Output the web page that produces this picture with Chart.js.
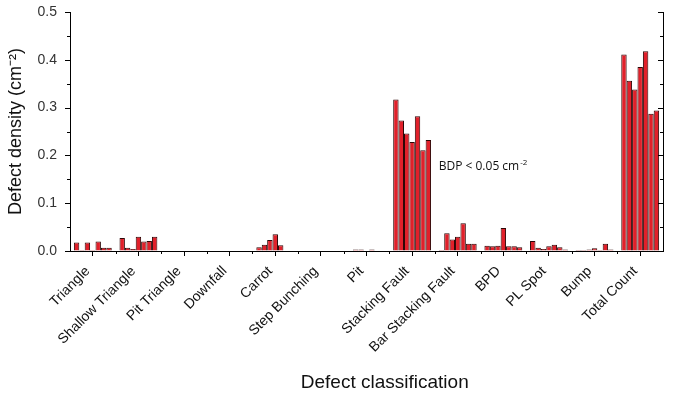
<!DOCTYPE html>
<html>
<head>
<meta charset="utf-8">
<script src="https://cdn.jsdelivr.net/npm/chart.js@4/dist/chart.umd.min.js"></script>
<style>
  body { margin: 0; background: #fff; }
</style>
</head>
<body>
<canvas id="defectChart" width="686" height="398"></canvas>
<script>
// categories along the x axis
const categories = ['Triangle', 'Shallow Triangle', 'Pit Triangle', 'Downfall', 'Carrot', 'Step Bunching',
  'Pit', 'Stacking Fault', 'Bar Stacking Fault', 'BPD', 'PL Spot', 'Bump', 'Total Count']

// seven bars per category (one per sample), values in cm^-2
const sample1 = [0.018, 0.027, 0, 0, 0.008, 0, 0, 0.317, 0.002, 0.011, 0.021, 0.002, 0.411]
const sample2 = [0.002, 0.007, 0, 0, 0.013, 0, 0.003, 0.273, 0.037, 0.010, 0.007, 0.002, 0.356]
const sample3 = [0.018, 0.004, 0, 0, 0.023, 0, 0.003, 0.246, 0.024, 0.011, 0.004, 0.003, 0.338]
const sample4 = [0.002, 0.030, 0, 0, 0.035, 0, 0, 0.228, 0.030, 0.048, 0.010, 0.006, 0.385]
const sample5 = [0.020, 0.020, 0, 0, 0.012, 0, 0.003, 0.282, 0.058, 0.010, 0.013, 0.002, 0.418]
const sample6 = [0.007, 0.021, 0, 0, 0, 0, 0, 0.211, 0.015, 0.010, 0.008, 0.015, 0.287]
const sample7 = [0.007, 0.030, 0, 0, 0, 0, 0, 0.232, 0.015, 0.008, 0.003, 0.003, 0.294]

const samples = [sample1, sample2, sample3, sample4, sample5, sample6, sample7]

// y axis range
const yMin = 0
const yMax = 0.5
const yStep = 0.1

const barFill = '#e1202a'
const barEdge = '#2e0606'
const fontFamily = '"Liberation Sans", Arial, sans-serif'

// y tick marks, mirrored right axis, minor ticks, x title and the BDP note
const axisExtras = {
  id: 'axisExtras',
  afterDraw(chart) {
    const ctx = chart.ctx
    const x = chart.scales.x
    const y = chart.scales.y
    const area = chart.chartArea
    ctx.save()
    ctx.strokeStyle = '#000'
    ctx.lineWidth = 1

    // right axis line
    ctx.beginPath()
    ctx.moveTo(area.right + 0.5, area.top)
    ctx.lineTo(area.right + 0.5, area.bottom)
    ctx.stroke()

    // y ticks: outward on the left, inward on the right, minor every half step
    for (let v = yMin; v <= yMax + 1e-9; v += yStep / 2) {
      const py = Math.round(y.getPixelForValue(v)) + 0.5
      const major = Math.abs(v / yStep - Math.round(v / yStep)) < 1e-6
      const len = major ? 5 : 3
      ctx.beginPath()
      ctx.moveTo(area.right, py)
      ctx.lineTo(area.right - len, py)
      ctx.moveTo(area.left, py)
      ctx.lineTo(area.left - len, py)
      ctx.stroke()
    }

    // minor x ticks between categories
    for (let i = 0; i < categories.length - 1; i++) {
      const px = Math.round((x.getPixelForValue(i) + x.getPixelForValue(i + 1)) / 2) + 0.5
      ctx.beginPath()
      ctx.moveTo(px, area.bottom)
      ctx.lineTo(px, area.bottom + 3)
      ctx.stroke()
    }

    // x axis title, sits a little right of the plot centre in the original
    ctx.fillStyle = '#111'
    ctx.textAlign = 'center'
    ctx.textBaseline = 'middle'
    ctx.font = '19px ' + fontFamily
    ctx.fillText('Defect classification', x.getPixelForValue(6.4), 383)

    // note next to the stacking fault bars
    const tx = x.getPixelForValue(8) - 19
    const ty = y.getPixelForValue(0.17)
    ctx.textAlign = 'left'
    ctx.textBaseline = 'alphabetic'
    ctx.font = '12px "Open Sans", sans-serif'
    const main = 'BDP < 0.05 cm'
    ctx.fillText(main, tx, ty)
    const w = ctx.measureText(main).width
    ctx.font = '8px "Open Sans", sans-serif'
    ctx.fillText('-2', tx + w + 1, ty - 5)
    ctx.restore()
  }
}

new Chart(document.getElementById('defectChart'), {
  type: 'bar',
  data: {
    labels: categories,
    datasets: samples.map((values, i) => ({
      label: 'Sample ' + (i + 1),
      data: values,
      backgroundColor: barFill,
      borderColor: barEdge,
      borderWidth: 1,
      borderSkipped: 'bottom',
      barPercentage: 1,
      categoryPercentage: 0.83,
    })),
  },
  options: {
    responsive: false,
    animation: false,
    layout: {
      padding: { top: 12, right: 23, left: 0, bottom: 0 },
    },
    plugins: {
      legend: { display: false },
      tooltip: { enabled: false },
    },
    scales: {
      x: {
        type: 'category',
        offset: true,
        grid: {
          offset: false,
          drawOnChartArea: false,
          tickLength: 5,
          color: '#000',
        },
        border: { color: '#000', width: 1 },
        ticks: {
          autoSkip: false,
          minRotation: 45,
          maxRotation: 45,
          padding: 7,
          labelOffset: -5,
          color: '#111',
          font: { family: fontFamily, size: 14 },
        },
        afterFit(scale) {
          scale.height = 147
        },
      },
      y: {
        min: yMin,
        max: yMax,
        ticks: {
          stepSize: yStep,
          padding: 0,
          color: '#333',
          font: { family: fontFamily, size: 14 },
          callback: (v) => v.toFixed(1),
        },
        grid: {
          drawOnChartArea: false,
          tickLength: 13,
          tickColor: 'rgba(0,0,0,0)',
        },
        border: { color: '#000', width: 1 },
        title: {
          display: true,
          text: 'Defect density (cm⁻²)',
          color: '#111',
          padding: { top: 5, bottom: 4 },
          font: { family: fontFamily, size: 18 },
        },
        afterFit(scale) {
          scale.width = 70
        },
      },
    },
  },
  plugins: [axisExtras],
})
</script>
</body>
</html>
